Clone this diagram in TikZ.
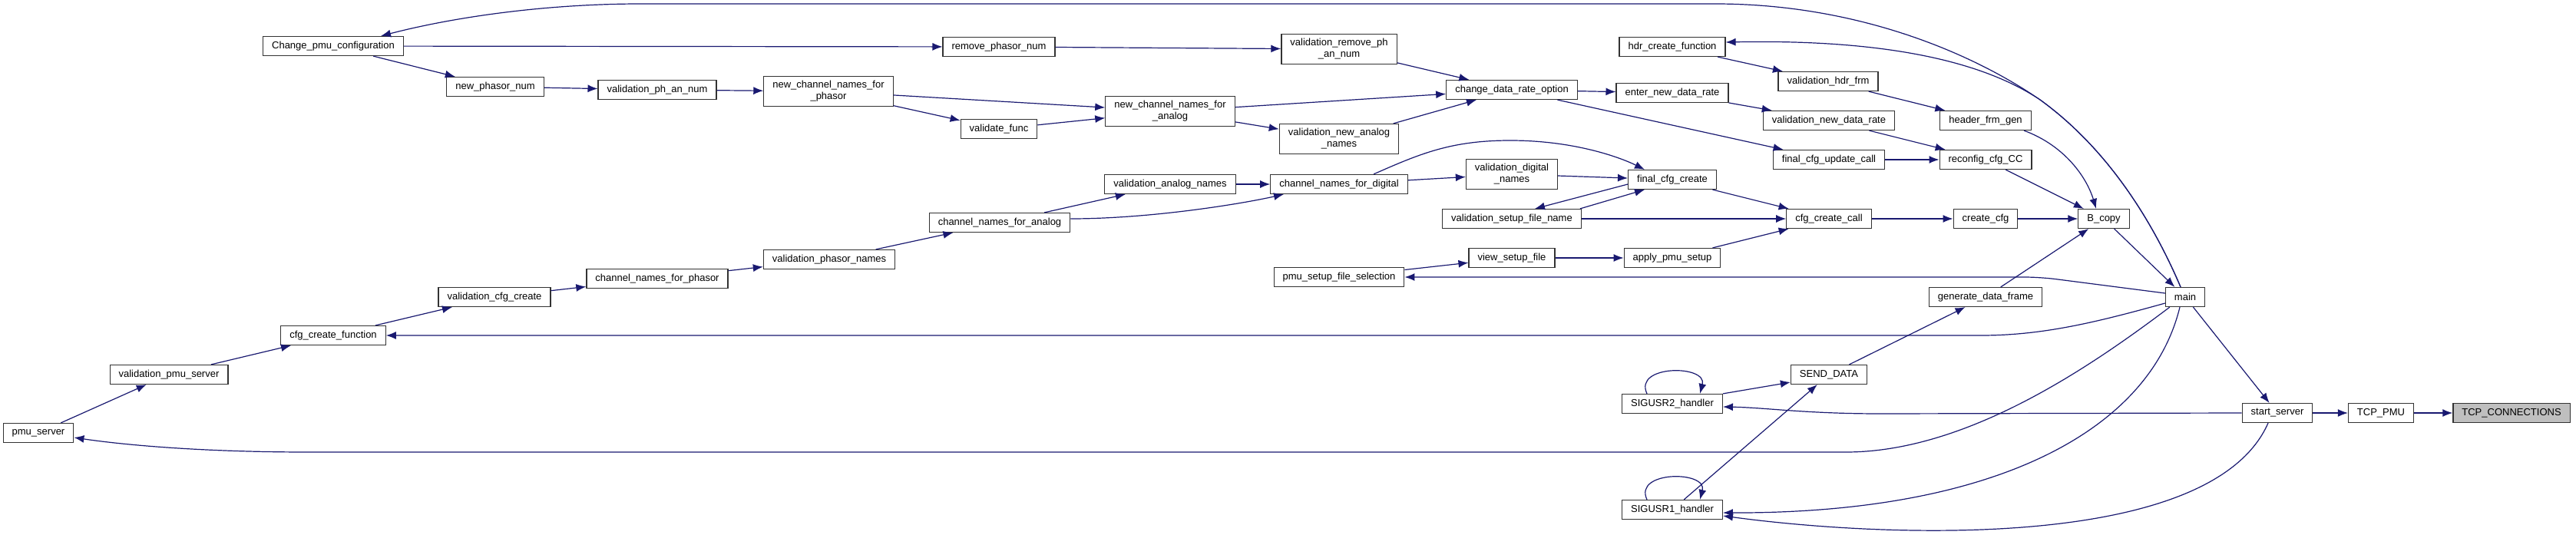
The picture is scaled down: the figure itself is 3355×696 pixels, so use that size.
\documentclass[tikz,border=0pt]{standalone}
\usepackage{fontspec}
\setmainfont{Liberation Sans}
\usepackage{tikz}
\usetikzlibrary{positioning,arrows.meta,calc}
\definecolor{edgeblue}{RGB}{25,25,112}
\definecolor{rootgray}{RGB}{191,191,191}

\begin{document}
\begin{tikzpicture}[
  x=0.5pt, y=-0.5pt,
  font=\fontsize{6.5}{7.5}\selectfont,
  fn/.style   = {draw=black!80, fill=white, line width=0.6pt, minimum height=12.5pt,
                 inner xsep=5.75pt, inner ysep=3pt, align=center},
  root/.style = {fn, fill=rootgray},
  ed/.style   = {-{Latex[length=6.5pt,width=5pt]}, line width=0.6pt, draw=edgeblue},
]
\useasboundingbox (0,0) rectangle (3355,696);

% ======================= function boxes ================================
\node[root] (tcpc)      at (3271,538) {TCP\_CONNECTIONS};
\node[fn] (tcppmu)      at (3101,538) {TCP\_PMU};
\node[fn] (start)       at (2966,538) {start\_server};
\node[fn] (main)        at (2846,387) {main};
\node[fn] (bcopy)       at (2740,285) {B\_copy};
\node[fn] (createcfg)   at (2586,285) {create\_cfg};
\node[fn] (reconfig)    at (2586,208) {reconfig\_cfg\_CC};
\node[fn] (hdrgen)      at (2586,157) {header\_frm\_gen};
\node[fn] (gendata)     at (2586,387) {generate\_data\_frame};
\node[fn] (cfgcall)     at (2382,285) {cfg\_create\_call};
\node[fn] (updcall)     at (2382,208) {final\_cfg\_update\_call};
\node[fn] (valrate)     at (2382,157) {validation\_new\_data\_rate};
\node[fn] (valhdr)      at (2381,106) {validation\_hdr\_frm};
\node[fn] (senddata)    at (2382,488) {SEND\_DATA};
\node[fn] (hdrfn)       at (2178,61)  {hdr\_create\_function};
\node[fn] (enterrate)   at (2178,121) {enter\_new\_data\_rate};
\node[fn] (finalcfg)    at (2178,234) {final\_cfg\_create};
\node[fn] (applysetup)  at (2178,336) {apply\_pmu\_setup};
\node[fn] (sigtwo)      at (2178,526) {SIGUSR2\_handler};
\node[fn] (sigone)      at (2178,664) {SIGUSR1\_handler};
\node[fn] (rateopt)     at (1969,117) {change\_data\_rate\_option};
\node[fn] (valdig)      at (1969,227) {validation\_digital\\\_names};
\node[fn] (valsetup)    at (1969,285) {validation\_setup\_file\_name};
\node[fn] (viewsetup)   at (1969,336) {view\_setup\_file};
\node[fn] (valremove)   at (1744,64)  {validation\_remove\_ph\\\_an\_num};
\node[fn] (valnewan)    at (1744,181) {validation\_new\_analog\\\_names};
\node[fn] (chdig)       at (1744,240) {channel\_names\_for\_digital};
\node[fn] (setupsel)    at (1744,361) {pmu\_setup\_file\_selection};
\node[fn] (newchan)     at (1524,145) {new\_channel\_names\_for\\\_analog};
\node[fn] (valan)       at (1524,240) {validation\_analog\_names};
\node[fn] (removeph)    at (1301,61)  {remove\_phasor\_num};
\node[fn] (valfunc)     at (1301,168) {validate\_func};
\node[fn] (chan)        at (1302,290) {channel\_names\_for\_analog};
\node[fn] (newchph)     at (1079,119) {new\_channel\_names\_for\\\_phasor};
\node[fn] (valph)       at (1080,338) {validation\_phasor\_names};
\node[fn] (valphan)     at (856,117)  {validation\_ph\_an\_num};
\node[fn] (chph)        at (856,363)  {channel\_names\_for\_phasor};
\node[fn] (newphnum)    at (645,113)  {new\_phasor\_num};
\node[fn] (valcfg)      at (644,387)  {validation\_cfg\_create};
\node[fn] (chgcfg)      at (434,60)   {Change\_pmu\_configuration};
\node[fn] (cfgfn)       at (434,437)  {cfg\_create\_function};
\node[fn] (valpmu)      at (220,488)  {validation\_pmu\_server};
\node[fn] (pmuserver)   at (50,564)   {pmu\_server};

% ======================= straight calls ================================
\foreach \a/\b in {tcppmu/tcpc, start/tcppmu, main/start, bcopy/main,
                   createcfg/bcopy, reconfig/bcopy, gendata/bcopy,
                   cfgcall/createcfg, updcall/reconfig, valrate/reconfig,
                   valhdr/hdrgen, senddata/gendata, finalcfg/cfgcall,
                   valsetup/cfgcall, applysetup/cfgcall, rateopt/updcall,
                   enterrate/valrate, hdrfn/valhdr, sigone/senddata,
                   rateopt/enterrate, valdig/finalcfg, viewsetup/applysetup,
                   valremove/rateopt, newchan/rateopt, valnewan/rateopt,
                   chdig/valdig, setupsel/viewsetup, newchan/valnewan,
                   valan/chdig, removeph/valremove, newchph/newchan,
                   valfunc/newchan, chan/valan, newchph/valfunc,
                   valphan/newchph, valph/chan, chgcfg/removeph,
                   chgcfg/newphnum, newphnum/valphan, chph/valph,
                   valcfg/chph, cfgfn/valcfg, valpmu/cfgfn, pmuserver/valpmu} {
  \draw[ed] (\a) -- (\b);
}

% ======================= bent calls ====================================
\draw[ed] ($(hdrgen.south)+(50,0)$) .. controls (2690,190) and (2718,232)
  .. ($(bcopy.north)+(-10,0)$);
\draw[ed] (sigtwo.north east) -- ($(senddata.west)+(0,10)$);
\draw[ed] ($(valsetup.north east)+(-2,0)$) -- ($(finalcfg.south)+(-36,0)$);
\draw[ed] ($(finalcfg.west)+(0,6)$) -- ($(valsetup.north)+(30,0)$);
\draw[ed] ($(chdig.north)+(45,0)$) .. controls (1850,200) and (1890,183) .. (1967,183)
  .. controls (2050,183) and (2110,205) .. ($(finalcfg.north)+(-36,0)$);
\draw[ed] ($(chan.east)+(0,-5)$) .. controls (1500,285) and (1620,265)
  .. ($(chdig.south)+(-72,0)$);

% self calls
\draw[ed] ($(sigtwo.north)+(-33,0)$) .. controls +(-18,-38) and +(10,-38)
  .. ($(sigtwo.north)+(36,0)$);
\draw[ed] ($(sigone.north)+(-33,0)$) .. controls +(-18,-38) and +(10,-38)
  .. ($(sigone.north)+(36,0)$);

% start_server -> signal handlers
\draw[ed] (start.west) -- (2450,539) .. controls (2350,539) and (2300,531)
  .. ($(sigtwo.east)+(0,4)$);
\draw[ed] ($(start.south)+(-12,0)$) .. controls (2880,720) and (2450,700)
  .. ($(sigone.east)+(0,8)$);

% main -> long calls
\draw[ed] ($(main.south)+(-7,0)$) .. controls (2800,560) and (2600,669)
  .. ($(sigone.east)+(0,4)$);
\draw[ed] ($(main.north)+(-6,0)$) .. controls (2800,280) and (2740,190) .. (2657,130)
  .. controls (2560,65) and (2400,52) .. ($(hdrfn.east)+(0,-6)$);
\draw[ed] ($(main.north)+(-6,0)$) .. controls (2800,280) and (2740,190) .. (2657,130)
  .. controls (2570,70) and (2420,5) .. (2234,5) -- (834,5)
  .. controls (720,5) and (600,20) .. ($(chgcfg.north)+(62,0)$);
\draw[ed, rounded corners=10pt] ($(main.west)+(0,-5)$) -- (2657,361) -- (setupsel.east);
\draw[ed] ($(main.west)+(0,8)$) .. controls (2730,420) and (2660,437) .. (2580,437)
  -- (cfgfn.east);
\draw[ed] ($(main.south west)+(6,0)$) .. controls (2720,480) and (2560,589) .. (2404,589)
  -- (402,589) .. controls (250,589) and (150,578) .. ($(pmuserver.east)+(0,6)$);

\end{tikzpicture}
\end{document}
